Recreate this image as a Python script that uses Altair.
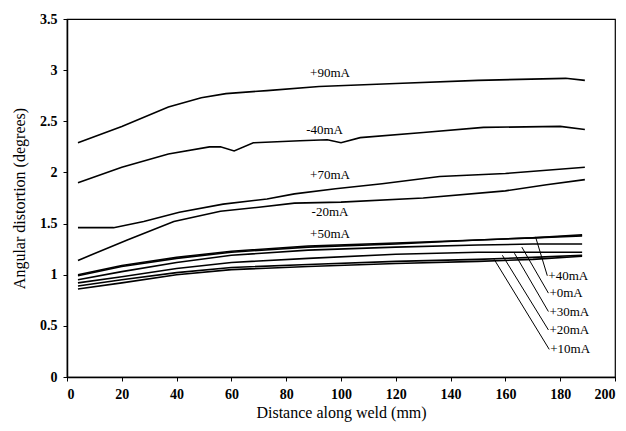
import altair as alt
import pandas as pd

# ---- data ----
x_p90 = [4, 20, 37, 49, 58, 73, 92, 120, 150, 182, 189]
y_p90 = [2.29, 2.45, 2.64, 2.73, 2.77, 2.80, 2.84, 2.87, 2.90, 2.92, 2.90]

x_m40 = [4, 20, 37, 52, 56, 61, 68, 85, 95, 100, 107, 130, 152, 180, 189]
y_m40 = [1.90, 2.05, 2.18, 2.25, 2.25, 2.21, 2.29, 2.31, 2.32, 2.29, 2.34, 2.39, 2.44, 2.45, 2.42]

x_p70 = [4, 17, 28, 41, 57, 73, 83, 98, 115, 136, 160, 189]
y_p70 = [1.46, 1.46, 1.52, 1.61, 1.69, 1.74, 1.79, 1.84, 1.89, 1.96, 1.99, 2.05]

x_m20 = [4, 22, 39, 56, 70, 83, 100, 130, 160, 175, 189]
y_m20 = [1.14, 1.34, 1.52, 1.62, 1.66, 1.70, 1.71, 1.75, 1.82, 1.88, 1.93]

x_low = [4, 20, 40, 60, 88, 120, 150, 170, 188]
y_p50 = [1.00, 1.09, 1.17, 1.23, 1.28, 1.31, 1.34, 1.36, 1.38]
y_p40 = [0.99, 1.08, 1.16, 1.22, 1.27, 1.30, 1.34, 1.36, 1.39]
y_p0 = [0.95, 1.03, 1.12, 1.19, 1.24, 1.27, 1.29, 1.30, 1.30]
y_p30 = [0.92, 0.98, 1.06, 1.12, 1.16, 1.20, 1.22, 1.22, 1.22]
y_p20 = [0.89, 0.95, 1.02, 1.07, 1.10, 1.13, 1.15, 1.17, 1.19]
y_p10 = [0.86, 0.92, 1.00, 1.05, 1.08, 1.11, 1.13, 1.15, 1.18]

series = [
    ("+90mA", x_p90, y_p90),
    ("-40mA", x_m40, y_m40),
    ("+70mA", x_p70, y_p70),
    ("-20mA", x_m20, y_m20),
    ("+50mA", x_low, y_p50),
    ("+40mA", x_low, y_p40),
    ("+0mA", x_low, y_p0),
    ("+30mA", x_low, y_p30),
    ("+20mA", x_low, y_p20),
    ("+10mA", x_low, y_p10),
]

# in-plot labels
lab_text = ["+90mA", "-40mA", "+70mA", "-20mA", "+50mA"]
lab_x = [96, 94, 96, 96, 96]
lab_y = [2.97, 2.41, 1.97, 1.61, 1.40]

# leader-line labels (right side)
lead_text = ["+40mA", "+0mA", "+30mA", "+20mA", "+10mA"]
lead_x0 = [171.0, 166.0, 163.3, 158.9, 155.9]
lead_y0 = [1.37, 1.27, 1.21, 1.19, 1.15]
lead_x1 = [175.3, 175.7, 175.7, 175.7, 176.0]
lead_y1 = [0.99, 0.82, 0.64, 0.46, 0.27]

rows = []
for name, xs, ys in series:
    for xv, yv in zip(xs, ys):
        rows.append({"series": name, "x": xv, "y": yv})
df = pd.DataFrame(rows)

labels = pd.DataFrame({"t": lab_text, "x": lab_x, "y": lab_y})
leaders = pd.DataFrame({"t": lead_text, "x0": lead_x0, "y0": lead_y0,
                        "x1": lead_x1, "y1": lead_y1})

FONT = "Liberation Serif"

xscale = alt.Scale(domain=[0, 200], nice=False)
yscale = alt.Scale(domain=[0, 3.5], nice=False)

lines = alt.Chart(df).mark_line(color="black", strokeWidth=1.6).encode(
    x=alt.X("x:Q", scale=xscale,
            axis=alt.Axis(title="Distance along weld (mm)", values=list(range(0, 201, 20)),
                          grid=False, tickSize=4, labelPadding=6, titlePadding=3)),
    y=alt.Y("y:Q", scale=yscale,
            axis=alt.Axis(title="Angular distortion (degrees)",
                          values=[0, 0.5, 1, 1.5, 2, 2.5, 3, 3.5], format="~g",
                          grid=False, tickSize=4, labelPadding=6, titlePadding=12)),
    detail="series:N",
)

text = alt.Chart(labels).mark_text(font=FONT, fontSize=13, color="black",
                                   align="center", baseline="middle").encode(
    x="x:Q", y="y:Q", text="t:N")

rules = alt.Chart(leaders).mark_rule(color="black", strokeWidth=1).encode(
    x="x0:Q", y="y0:Q", x2="x1:Q", y2="y1:Q")

lead_text_mark = alt.Chart(leaders).mark_text(font=FONT, fontSize=13, color="black",
                                              align="left", baseline="middle", dx=1).encode(
    x="x1:Q", y="y1:Q", text="t:N")

chart = alt.layer(lines, rules, text, lead_text_mark).properties(
    width=548, height=358,
    autosize=alt.AutoSizeParams(type="none"),
    padding={"left": 59, "top": 11, "right": 3, "bottom": 52},
).configure(background="white").configure_view(
    stroke="black", strokeWidth=1.2
).configure_axis(
    domainColor="black", tickColor="black", labelColor="black", titleColor="black",
    labelFont=FONT, titleFont=FONT, labelFontSize=14, titleFontSize=16,
    labelFontWeight="bold", titleFontWeight="normal", domainWidth=1.5,
)

chart.save("out.html", embed_options={"renderer": "svg", "actions": False})
